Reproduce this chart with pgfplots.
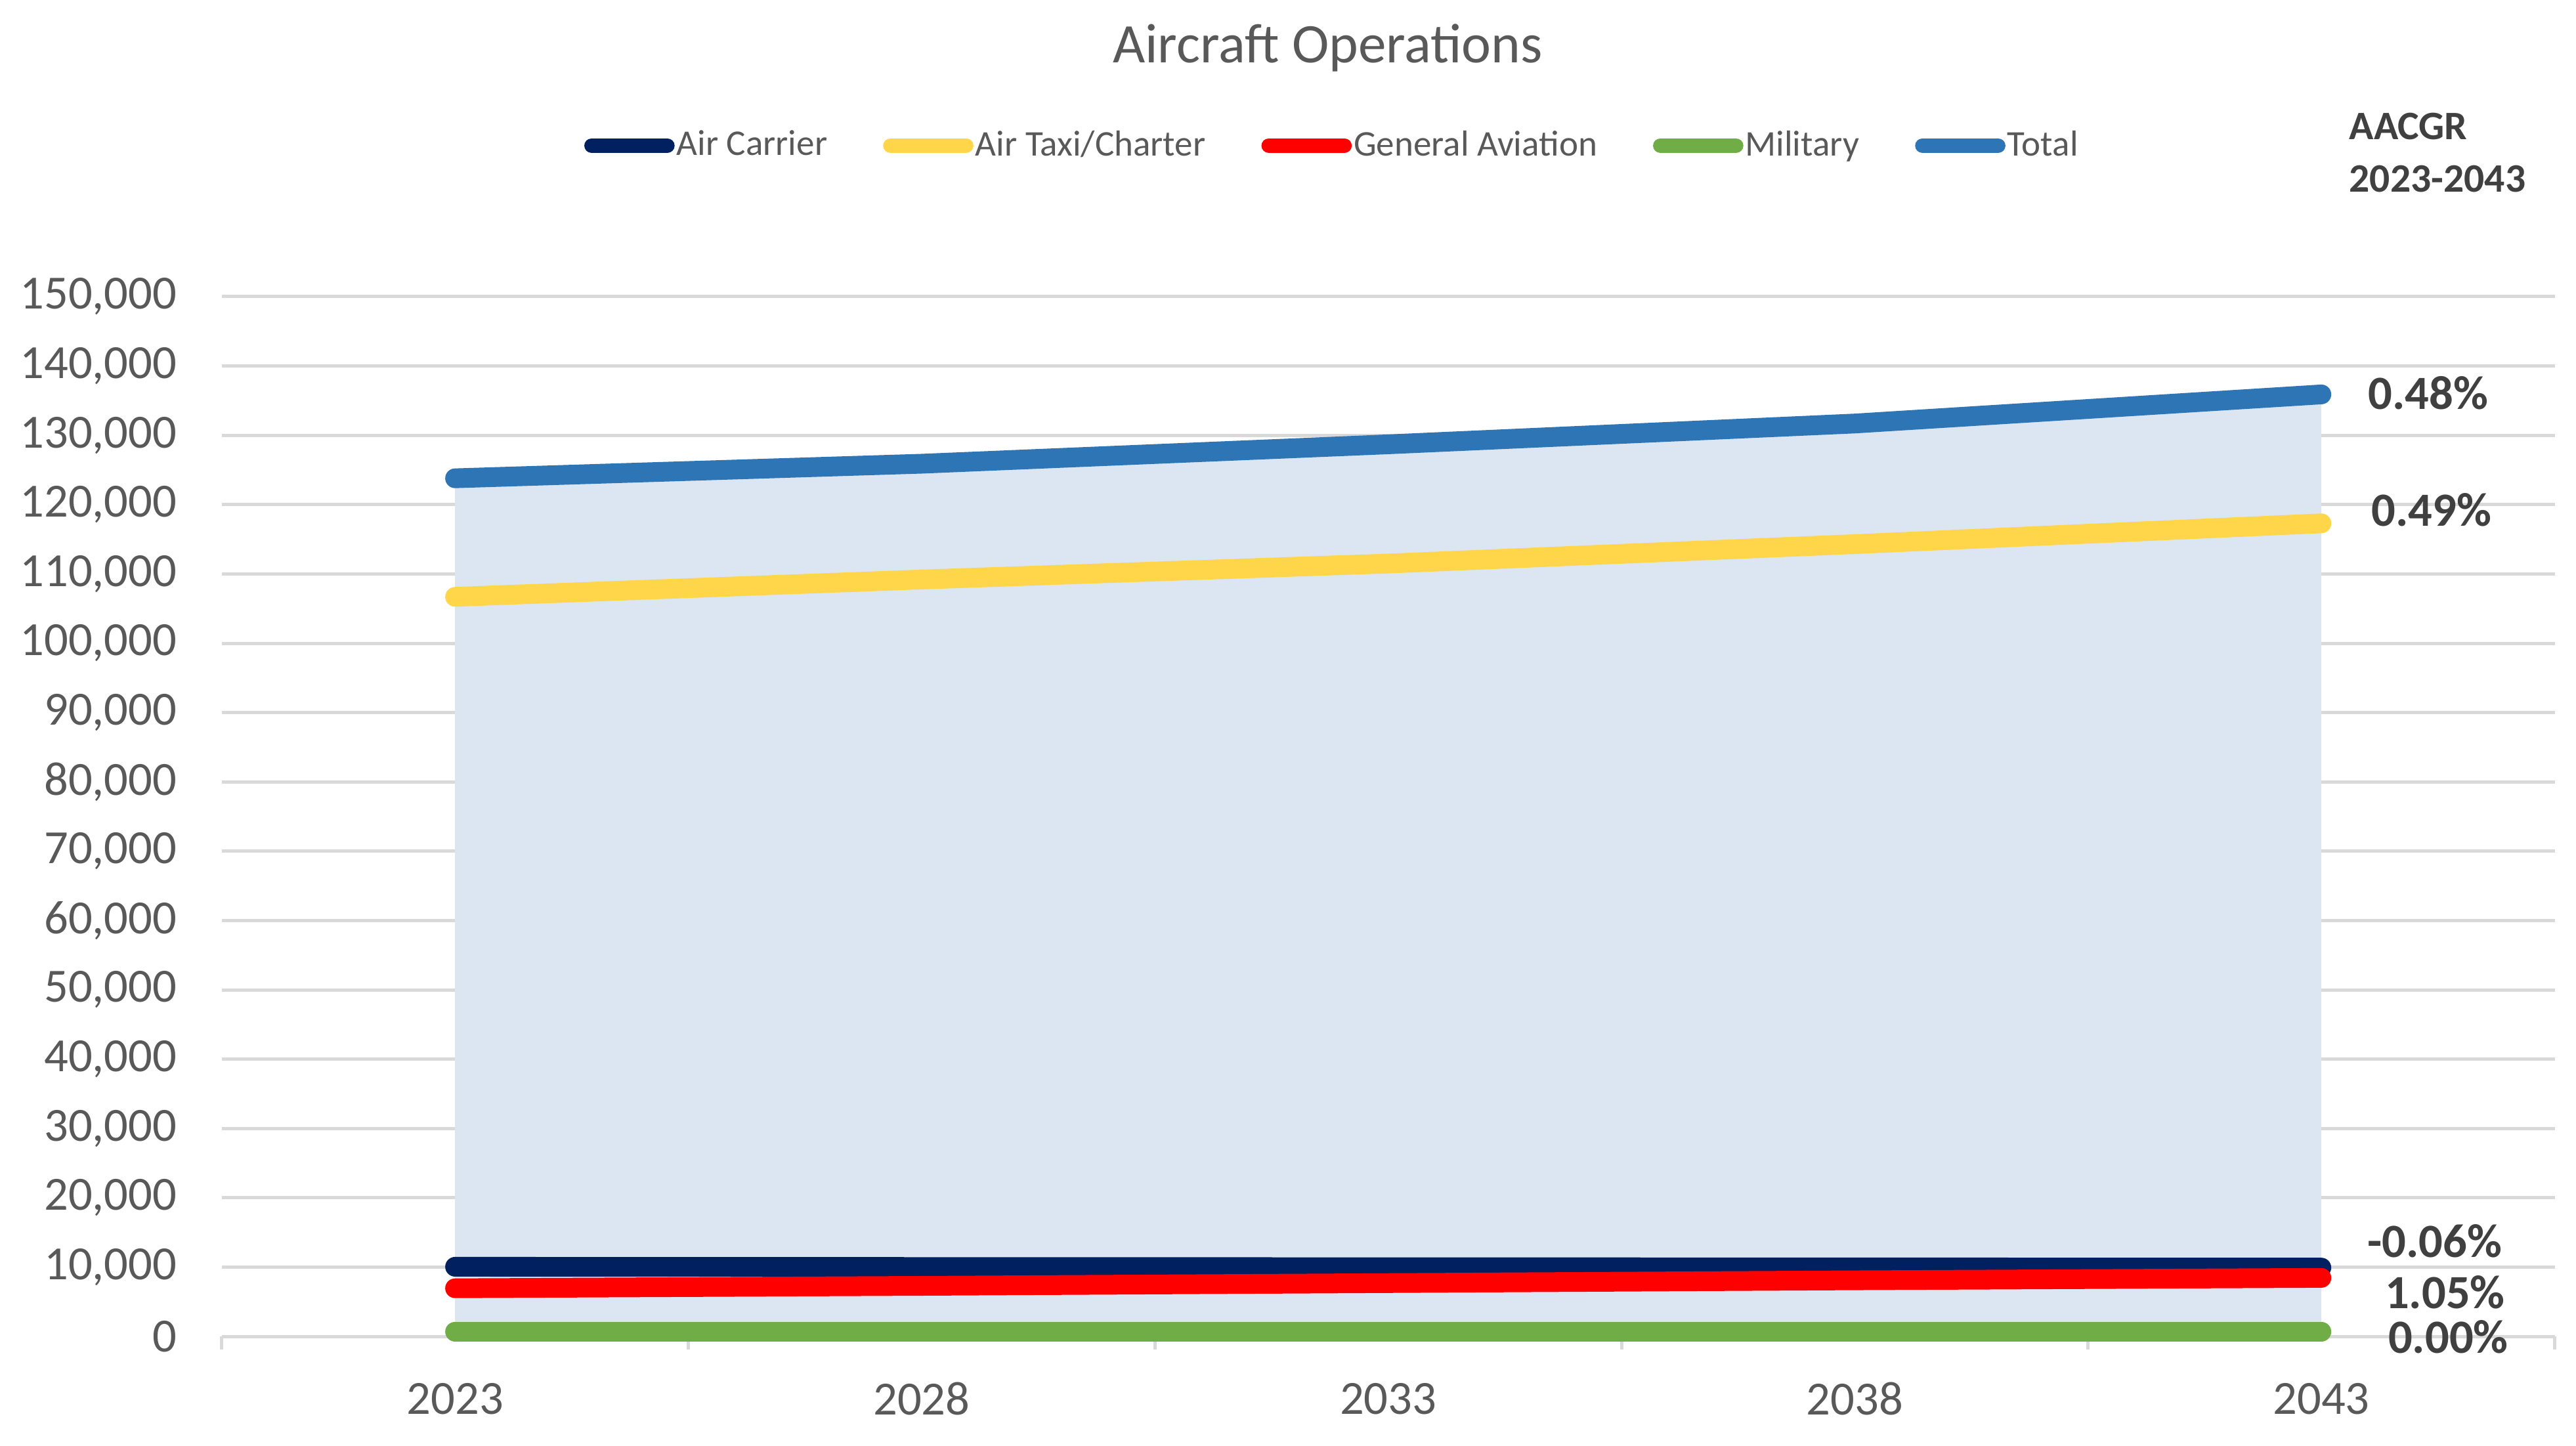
\documentclass[border=0pt]{standalone}
\usepackage{fontspec}
\setmainfont{Carlito}
\usepackage{pgfplots}
\pgfplotsset{compat=1.18}
\definecolor{navyc}{HTML}{002060}
\definecolor{yelc}{HTML}{FFD54A}
\definecolor{redc}{HTML}{FF0000}
\definecolor{grnc}{HTML}{70AD47}
\definecolor{bluc}{HTML}{2E75B6}
\definecolor{areac}{HTML}{DCE6F3}
\definecolor{gridc}{HTML}{D9D9D9}
\definecolor{txtc}{HTML}{595959}
\definecolor{lblc}{HTML}{404040}
\begin{document}
\begin{tikzpicture}
\useasboundingbox (-67.5pt,-33.2pt) rectangle (716.5pt,406.8pt);
\begin{axis}[
  at={(0pt,0pt)}, anchor=south west,
  width=710pt, height=316.5pt, scale only axis,
  xmin=-0.5, xmax=4.5, ymin=0, ymax=150000,
  clip=false,
  axis x line*=bottom, axis y line*=left,
  y axis line style={draw=none},
  x axis line style={gridc, line width=1pt, -},
  xtick={0,1,2,3,4}, xticklabels={2023,2028,2033,2038,2043},
  minor xtick={-0.5,0.5,1.5,2.5,3.5,4.5},
  ytick={0,10000,...,150000},
  scaled y ticks=false,
  /pgf/number format/.cd, fixed, precision=0, 1000 sep={,}, assume math mode=true,
  /pgfplots/.cd,
  major tick length=0pt, minor tick length=4pt, tick align=outside,
  every minor tick/.append style={gridc, line width=1pt},
  ymajorgrids, major grid style={gridc, line width=1pt},
  tick label style={font=\fontsize{14.5}{17}\selectfont, text=txtc},
  yticklabel style={anchor=east, inner sep=0pt, xshift=-13.5pt},
  xticklabel style={anchor=center, inner sep=0pt, yshift=-19pt},
  title={Aircraft Operations},
  title style={at={(0.474,1.2206)}, anchor=center, font=\fontsize{17}{20}\selectfont, text=txtc},
  legend style={at={(0.476,1.1453)}, anchor=center, draw=none, fill=none, legend columns=-1,
    font=\fontsize{11}{13}\selectfont, text=txtc, inner sep=0pt,
    nodes={inner sep=0.6pt},
    /tikz/every even column/.append style={column sep=16.4pt}},
  legend image code/.code={\draw[#1, line width=4.5pt, line cap=round] (2pt,0pt) -- (25pt,0pt);},
  no markers,
]
\addplot[fill=areac, draw=none, forget plot] coordinates {(0,123800) (1,125900) (2,128700) (3,131700) (4,135900)} \closedcycle;
\addplot[navyc, line width=6pt, line cap=round, line join=round] coordinates {(0,10050) (1,10020) (2,9990) (3,9960) (4,9930)};
\addlegendentry{Air Carrier}
\addplot[yelc, line width=6pt, line cap=round, line join=round] coordinates {(0,106700) (1,109200) (2,111500) (3,114300) (4,117300)};
\addlegendentry{Air Taxi/Charter}
\addplot[redc, line width=6pt, line cap=round, line join=round] coordinates {(0,6950) (1,7300) (2,7700) (3,8100) (4,8450)};
\addlegendentry{General Aviation}
\addplot[grnc, line width=6pt, line cap=round, line join=round] coordinates {(0,700) (1,700) (2,700) (3,700) (4,700)};
\addlegendentry{Military}
\addplot[bluc, line width=6pt, line cap=round, line join=round] coordinates {(0,123800) (1,125900) (2,128700) (3,131700) (4,135900)};
\addlegendentry{Total}
\node[font=\bfseries\fontsize{14.5}{17}\selectfont, text=lblc, inner sep=0pt] at (axis cs:4.229,136100) {0.48\%};
\node[font=\bfseries\fontsize{14.5}{17}\selectfont, text=lblc, inner sep=0pt] at (axis cs:4.236,119200) {0.49\%};
\node[font=\bfseries\fontsize{14.5}{17}\selectfont, text=lblc, inner sep=0pt] at (axis cs:4.243,13800) {-0.06\%};
\node[font=\bfseries\fontsize{14.5}{17}\selectfont, text=lblc, inner sep=0pt] at (axis cs:4.265,6400) {1.05\%};
\node[font=\bfseries\fontsize{14.5}{17}\selectfont, text=lblc, inner sep=0pt] at (axis cs:4.272,-100) {0.00\%};
\node[anchor=west, align=left, font=\bfseries\fontsize{12.3}{16}\selectfont, text=lblc] at (rel axis cs:0.907,1.1384) {AACGR\\2023-2043};
\end{axis}
\end{tikzpicture}
\end{document}
